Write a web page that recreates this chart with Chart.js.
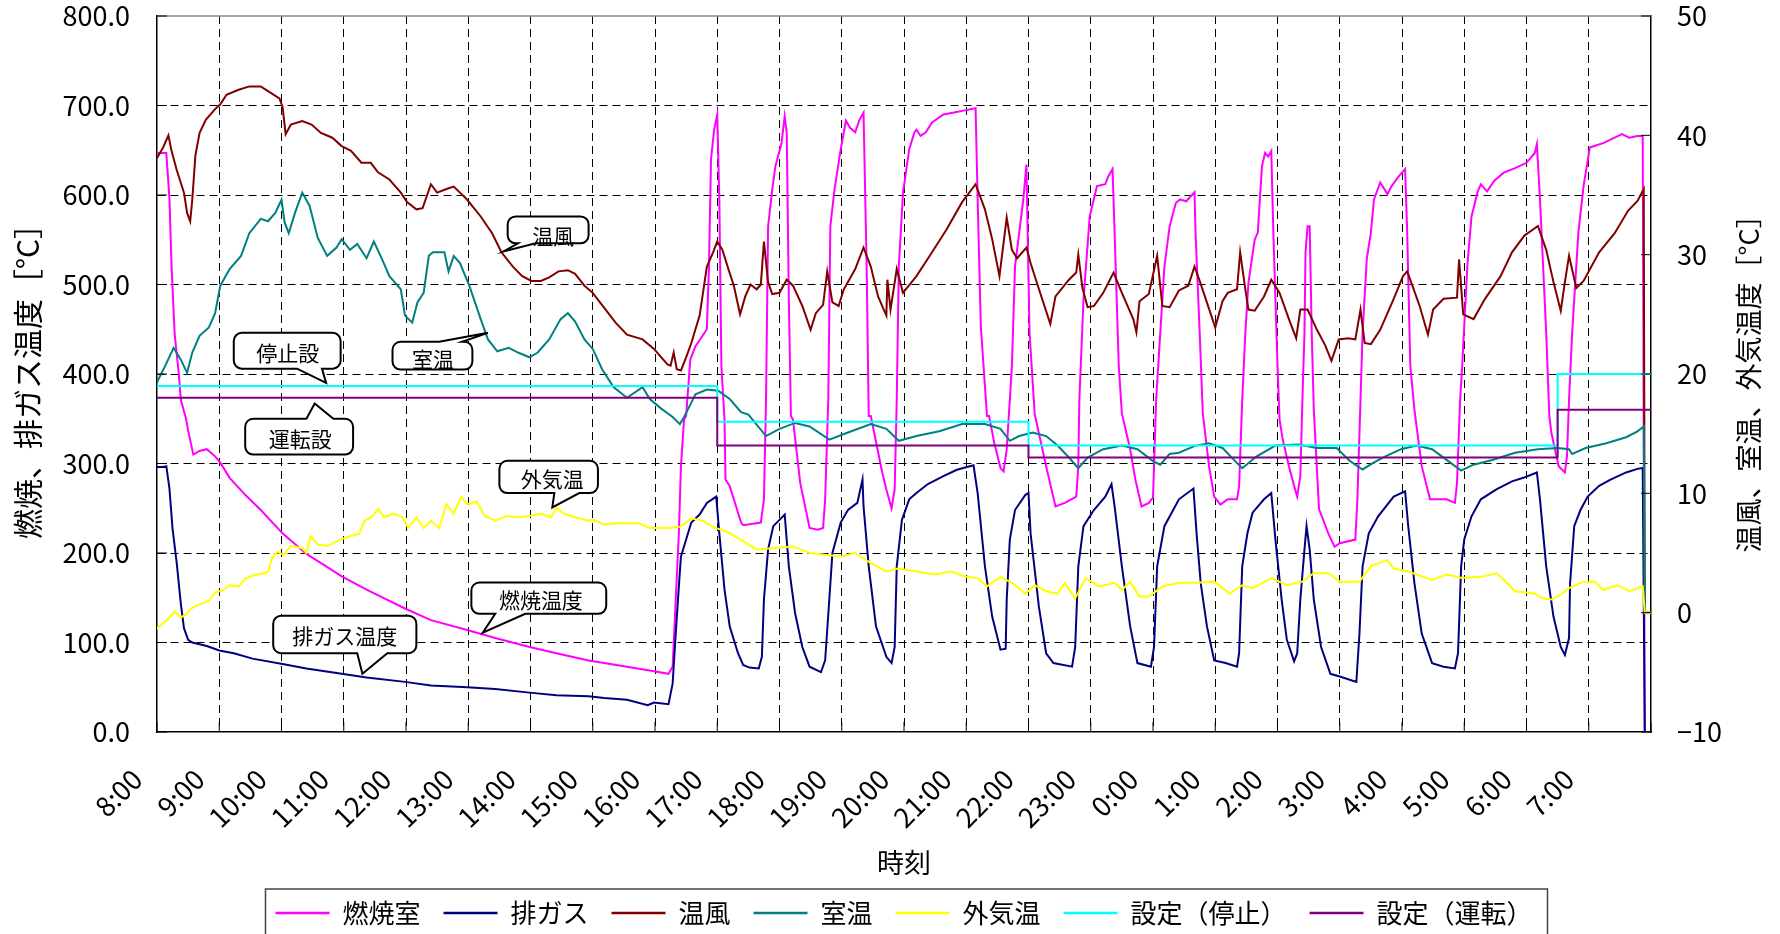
<!DOCTYPE html>
<html lang="ja">
<head>
<meta charset="utf-8">
<script src="https://cdn.jsdelivr.net/npm/chart.js@4.4.1/dist/chart.umd.min.js"></script>
<style>
  html, body { margin: 0; padding: 0; background: #fff; }
  #wrap { width: 1780px; height: 934px; }
</style>
</head>
<body>
<div id="wrap"><canvas id="chart" width="1780" height="934"></canvas></div>
<script>
// time axis: minutes after 8:00, one label per hour
const timeLabels = ['8:00', '9:00', '10:00', '11:00', '12:00', '13:00', '14:00', '15:00', '16:00', '17:00',
    '18:00', '19:00', '20:00', '21:00', '22:00', '23:00', '0:00', '1:00', '2:00', '3:00', '4:00', '5:00', '6:00', '7:00'];

const seriesNames = ['燃焼室', '排ガス', '温風', '室温', '外気温', '設定（停止）', '設定（運転）'];
const seriesColors = ['#ff00ff', '#000080', '#800000', '#008080', '#ffff00', '#00ffff', '#800080'];

// [minute, °C] - left axis
const combustion = [
    [0,647],[9,647],[12,596],[14,521],[17,445],[21,400],[23,371],[28,350],[30,337],[35,310],[41,314],[48,316],[56,308],[61,301],[70,284],[85,265],[100,248],[121,222],[144,199],[162,186],[178,174],[202,159],[239,138],[264,125],[299,114],[326,105],[359,95],[385,88],[416,80],[431,77],[453,73],[479,68],[493,65],
    [497,73],[500,148],[503,222],[505,297],[508,349],[510,353],[514,416],[519,431],[526,443],[530,450],[532,520],[534,640],[537,673],[540,690],[542,595],[544,409],[547,349],[548,282],[552,275],[563,234],[565,231],[582,234],[585,260],[587,371],
    [589,565],[593,606],[596,632],[602,658],[605,688],[607,669],[609,483],[611,353],[613,349],[620,278],[629,228],[637,226],[642,228],[644,260],[647,371],
    [649,565],[653,606],[659,651],[664,683],[668,675],[673,670],[677,684],[681,692],[684,520],[686,353],[688,353],[699,290],[703,271],[708,250],[711,271],[713,371],
    [715,520],[719,602],[725,651],[730,670],[732,673],[736,666],[741,670],[747,681],[758,690],[767,692],[776,694],[789,697],[791,595],[794,454],[800,353],[802,353],[807,323],[813,295],[816,291],[819,316],[822,371],
    [824,409],[827,520],[835,595],[838,634],[841,446],[846,355],[857,297],[866,252],[875,256],[886,263],[888,297],[889,371],
    [893,483],[899,576],[906,610],[914,612],[917,621],[921,629],[923,558],[927,409],[930,356],[938,316],[943,282],[949,252],[956,256],[960,262],[961,297],[963,371],
    [967,446],[971,520],[976,565],[982,591],[986,595],[992,593],[1000,603],[1001,558],[1005,446],[1008,356],[1014,297],[1019,263],[1025,254],[1032,260],[1041,260],[1043,275],[1046,371],
    [1049,446],[1052,502],[1058,550],[1061,558],[1065,632],[1068,647],[1071,643],[1074,649],[1076,558],[1080,409],[1082,349],[1085,327],[1091,297],[1096,275],[1099,263],[1102,286],[1104,371],
    [1106,446],[1107,536],[1109,565],[1111,565],[1113,446],[1115,360],[1120,249],[1129,222],[1135,207],[1140,211],[1155,215],[1157,260],[1160,371],
    [1162,446],[1166,528],[1170,558],[1173,595],[1179,614],[1186,601],[1190,610],[1197,621],[1203,629],[1205,558],[1208,409],[1212,360],[1219,297],[1227,260],[1234,260],[1243,260],[1251,256],[1253,278],[1256,371],
    [1258,409],[1263,521],[1267,576],[1273,604],[1276,612],[1282,604],[1289,616],[1298,625],[1309,630],[1320,636],[1328,647],[1330,657],[1333,595],[1339,446],[1342,353],[1344,334],[1351,297],[1357,290],[1359,308],[1361,371],
    [1364,446],[1370,558],[1375,610],[1381,653],[1386,655],[1394,658],[1405,664],[1412,668],[1419,664],[1427,666],[1432,666],[1434,0],[1440,0]
];

const exhaust = [
    [0,296],[6,296],[9,297],[12,272],[15,227],[19,189],[23,143],[26,116],[30,103],[34,100],[48,96],[60,91],[74,88],[92,82],[121,76],[144,71],[178,65],[202,61],[239,56],[264,52],[299,50],[326,48],[359,44],[385,41],[416,40],[431,38],[453,36],[473,30],[479,33],[493,31],
    [497,54],[500,110],[503,163],[505,196],[510,215],[515,234],[523,243],[530,256],[539,263],[542,222],[547,159],[552,118],[560,88],[565,75],[571,72],[580,71],[583,84],
    [585,148],[589,204],[594,230],[600,237],[605,243],[609,185],[615,133],[622,95],[629,73],[640,67],[644,80],
    [648,148],[651,200],[659,234],[666,248],[675,256],[680,282],[681,252],[686,185],[693,118],[703,84],[708,77],[711,95],
    [713,185],[718,237],[725,260],[732,267],[743,277],[758,286],[771,293],[787,298],[791,267],[798,185],[805,129],[813,92],[818,93],
    [819,148],[822,215],[827,248],[837,265],[840,267],[842,222],[850,140],[857,88],[864,77],[882,73],[885,95],
    [888,185],[893,230],[903,248],[914,263],[920,277],[923,252],[930,185],[938,118],[945,77],[958,73],[961,95],
    [964,185],[971,230],[985,260],[999,272],[1002,222],[1006,166],[1012,118],[1019,80],[1030,77],[1041,73],[1043,88],
    [1046,185],[1051,222],[1056,245],[1067,260],[1074,267],[1078,215],[1084,148],[1089,103],[1096,79],[1099,88],
    [1102,148],[1106,204],[1108,230],[1111,204],[1115,148],[1122,95],[1131,65],[1140,62],[1156,56],
    [1159,110],[1162,185],[1168,222],[1177,241],[1192,263],[1203,269],[1206,230],[1212,166],[1219,110],[1229,77],[1240,73],[1251,71],[1254,88],
    [1257,185],[1260,215],[1267,241],[1276,260],[1291,271],[1306,280],[1317,284],[1330,290],[1333,260],[1339,185],[1346,129],[1353,95],[1357,86],[1361,105],
    [1362,166],[1366,230],[1372,248],[1379,263],[1390,275],[1401,282],[1416,290],[1427,294],[1432,295],[1434,0],[1440,0]
];

// [minute, °C] - right axis
const hotAir = [
    [0,38.1],[6,39.0],[11,40.0],[14,38.7],[19,37.1],[26,35.2],[29,33.5],[32,32.8],[34,34.6],[37,38.3],[41,40.2],[47,41.3],[56,42.2],[61,42.6],[67,43.4],[78,43.8],[89,44.1],[100,44.1],[107,43.7],[118,43.1],[121,42.4],[124,40.1],[129,40.9],[140,41.2],[149,40.9],[158,40.2],[169,39.8],[178,39.1],[187,38.7],[197,37.7],[206,37.7],[213,36.9],[224,36.3],[235,35.2],[241,34.4],[250,33.8],[256,33.9],[264,35.9],[270,35.2],[279,35.5],[286,35.7],[292,35.2],[299,34.6],[312,33.2],[323,31.8],[332,30.2],[343,29.0],[352,28.2],[361,27.8],[370,27.8],[378,28.1],[387,28.6],[396,28.7],[403,28.4],[412,27.4],
    [420,26.8],[427,26.0],[442,24.3],[453,23.3],[468,22.9],[479,22.1],[492,20.8],[495,20.7],[498,21.8],[501,20.4],[505,20.3],[510,21.4],[515,22.6],[523,24.9],[530,29.0],[536,30.2],[540,31.1],[545,30.4],[550,29.0],[556,27.4],[562,25.0],[567,26.5],[572,27.5],[578,27.1],[582,27.5],[585,31.1],[589,27.7],[593,26.7],[600,26.8],[607,27.9],[613,27.4],[622,25.7],[630,23.7],[635,25.1],[642,25.8],[646,28.6],[651,26.0],[657,25.7],[662,27.1],[673,28.8],[681,30.6],[688,29.0],[695,26.5],[703,24.9],[704,27.9],[707,25.4],[713,28.8],[719,26.8],[732,28.2],[747,30.2],[761,32.1],[776,34.4],[789,35.9],[798,33.8],[805,31.3],[812,28.2],[816,31.0],[819,33.1],[824,30.4],[829,29.7],[838,30.6],[842,29.3],[849,27.4],[861,24.2],[866,26.5],[879,27.9],[886,28.5],[888,30.0],[892,27.2],[897,25.6],[903,25.7],[912,26.8],[922,28.5],[930,26.8],[941,24.6],[944,23.5],[947,26.1],[956,26.7],[964,29.9],[969,25.7],[976,25.6],[985,27.0],
    [994,27.4],[1000,29.0],[1005,27.8],[1010,26.5],[1020,23.9],[1027,26.1],[1032,26.8],[1041,27.1],[1044,30.2],[1049,27.1],[1052,25.4],[1058,25.3],[1067,26.5],[1074,27.9],[1082,26.8],[1091,24.6],[1098,23.0],[1102,25.4],[1109,25.4],[1118,23.7],[1126,22.4],[1132,21.1],[1139,22.9],[1148,23.0],[1155,22.9],[1160,25.4],[1164,22.6],[1170,22.5],[1179,23.7],[1192,26.3],[1201,28.2],[1205,28.6],[1210,27.4],[1217,25.7],[1225,23.3],[1230,25.4],[1240,26.3],[1253,26.4],[1255,29.6],[1259,25.0],[1269,24.6],[1280,26.3],[1295,28.2],[1306,30.2],[1318,31.6],[1331,32.4],[1339,30.4],[1346,27.7],[1353,25.3],[1357,27.7],[1361,29.9],[1368,27.2],[1375,27.8],[1390,30.2],[1405,31.8],[1418,33.7],[1427,34.5],[1433,35.5],[1434,0],[1440,0]
];

const roomAir = [
    [0,19.3],[8,20.7],[16,22.2],[23,21.2],[29,20.1],[34,21.8],[41,23.2],[50,23.9],[56,25.1],[61,27.4],[70,28.8],[81,29.9],[89,31.8],[100,33.0],[107,32.8],[114,33.5],[120,34.6],[123,32.7],[127,31.8],[133,33.5],[140,35.2],[147,34.1],[155,31.4],[164,29.9],[173,30.6],[178,31.3],[186,30.4],[193,30.9],[202,29.7],[209,31.1],[217,29.6],[224,28.2],[235,27.1],[239,24.9],[246,24.3],[251,26.0],[257,26.8],[262,29.9],[266,30.2],[277,30.2],[281,28.6],[286,29.9],[292,29.3],[301,27.4],[312,24.6],[319,22.9],[328,21.9],[339,22.2],[348,21.8],[359,21.4],[367,21.8],[378,22.9],[389,24.6],[396,25.1],[403,24.4],[412,22.9],
    [420,22.1],[429,20.4],[440,18.9],[453,18.0],[468,18.9],[475,17.9],[486,17.1],[497,16.4],[504,15.8],[508,16.4],[515,17.6],[519,18.3],[530,18.7],[541,18.6],[552,17.9],[563,16.8],[570,16.6],[587,14.8],[600,15.4],[615,15.9],[629,15.6],[648,14.5],[666,15.1],[688,15.8],[703,15.4],[715,14.4],[732,14.8],[754,15.2],[776,15.8],[798,15.8],[813,15.4],[822,14.4],[831,14.8],[844,15.1],[857,14.8],[868,14.0],[879,13.0],[888,12.1],[897,13.0],[912,13.7],[930,14.0],[945,13.7],[960,12.7],[967,12.4],[976,13.3],[985,13.4],
    [1001,14.0],[1014,14.2],[1027,13.8],[1038,12.8],[1046,12.1],[1060,13.1],[1078,14.0],[1100,14.1],[1118,13.8],[1137,13.8],[1150,12.7],[1162,12.0],[1173,12.6],[1184,13.1],[1199,13.7],[1214,14.0],[1229,13.7],[1243,12.8],[1257,11.9],[1269,12.4],[1287,12.8],[1309,13.4],[1331,13.7],[1350,13.8],[1361,13.7],[1364,13.3],[1377,13.8],[1397,14.2],[1416,14.7],[1427,15.2],[1433,15.6],[1434,0],[1440,0]
];

const outdoorAir = [
    [0,-1.35],[4,-1.0],[10,-0.6],[17,0.1],[23,-0.4],[28,-0.15],[34,0.4],[41,0.7],[50,1.0],[56,1.7],[63,1.85],[70,2.3],[79,2.2],[85,2.85],[92,3.1],[107,3.4],[111,4.6],[116,5.1],[122,4.85],[129,5.6],[140,5.4],[144,5.0],[148,6.4],[155,5.7],[165,5.6],[176,6.1],[186,6.4],[195,6.6],[200,7.7],[208,8.1],[213,8.7],[219,8.0],[228,8.3],[237,8.0],[242,7.1],[250,8.0],[257,7.1],[264,7.7],[272,7.1],[279,9.1],[286,8.3],[293,9.7],[299,9.1],[308,9.3],[316,8.1],[326,7.7],[337,8.1],[348,8.0],[359,8.1],[370,8.3],[380,8.0],[385,8.8],[392,8.3],[403,8.0],[416,7.7],
    [420,7.8],[431,7.4],[446,7.5],[464,7.5],[475,7.1],[493,7.1],[504,7.2],[515,7.9],[526,7.7],[538,7.1],[549,6.8],[563,6.1],[578,5.3],[593,5.4],[613,5.55],[629,5.0],[644,4.85],[659,4.7],[673,5.0],[688,4.15],[703,3.45],[714,3.7],[732,3.45],[750,3.2],[765,3.45],[780,3.0],[791,2.9],[800,2.2],[813,3.0],[824,2.5],[837,1.6],[846,2.3],[857,1.8],[868,1.6],[875,2.5],[885,1.2],[895,2.9],[908,2.2],[923,2.5],[930,1.9],[938,2.6],[947,1.35],[956,1.35],[969,2.2],[985,2.5],
    [1001,2.5],[1019,2.6],[1034,1.6],[1046,2.3],[1056,2.05],[1074,2.9],[1089,2.3],[1104,2.6],[1115,3.3],[1129,3.3],[1140,2.6],[1159,2.6],[1170,3.9],[1186,4.4],[1192,3.7],[1206,3.45],[1229,2.75],[1243,3.2],[1258,2.9],[1276,3.0],[1291,3.3],[1298,2.75],[1309,1.8],[1328,1.6],[1335,1.2],[1344,1.1],[1353,1.5],[1361,2.05],[1375,2.6],[1386,2.6],[1394,1.9],[1408,2.3],[1419,1.8],[1432,2.2],[1434,0],[1440,0]
];

// set points change at 17:00, 22:00 and 6:30
const setTimes = [0, 540, 840, 1350, 1440];
const stopSet = [19, 16, 14, 20, 20];
const runSet = [18, 14, 13, 17, 17];

// callouts: box [t0, v0, t1, v1] in left-axis units, side of the pointer, pointer base, tip, text centre
const callouts = [
    { text: '温風', box: [338, 576, 416, 546], side: 'bottom', base: [348, 365], tip: [334, 537], at: [382, 554] },
    { text: '室温', box: [227, 436, 304, 405], side: 'top', base: [272, 294], tip: [319, 446], at: [266, 417] },
    { text: '停止設', box: [74, 446, 177, 406], side: 'bottom', base: [135, 159], tip: [163, 390], at: [126, 424] },
    { text: '運転設', box: [85, 350, 189, 310], side: 'top', base: [144, 170], tip: [152, 367], at: [138, 327] },
    { text: '外気温', box: [330, 303, 425, 267], side: 'bottom', base: [383, 407], tip: [381, 251], at: [381, 283] },
    { text: '燃焼温度', box: [303, 167, 433, 132], side: 'bottom', base: [326, 355], tip: [314, 111], at: [370, 148] },
    { text: '排ガス温度', box: [112, 130, 250, 88], side: 'bottom', base: [193, 222], tip: [198, 65], at: [181, 107] }
];

const FONT = '"Noto Sans CJK JP", "Noto Sans", sans-serif';
Chart.defaults.font.family = FONT;
Chart.defaults.color = '#000';

function toPoints(pairs) {
    return pairs.map(p => ({ x: p[0], y: p[1] }));
}

const seriesData = [
    toPoints(combustion),
    toPoints(exhaust),
    toPoints(hotAir),
    toPoints(roomAir),
    toPoints(outdoorAir),
    setTimes.map((t, i) => ({ x: t, y: stopSet[i] })),
    setTimes.map((t, i) => ({ x: t, y: runSet[i] }))
];
const seriesAxis = ['y', 'y', 'y2', 'y2', 'y2', 'y2', 'y2'];

const datasets = seriesNames.map((name, i) => ({
    label: name,
    data: seriesData[i],
    yAxisID: seriesAxis[i],
    borderColor: seriesColors[i],
    backgroundColor: seriesColors[i],
    borderWidth: 2,
    pointRadius: 0,
    tension: 0,
    stepped: i >= 5,
    // later series are drawn on top
    order: seriesNames.length - i
}));

function calloutPath(c, x0, y0, x1, y1, side, b0, b1, tx, ty) {
    const r = 8;
    c.beginPath();
    c.moveTo(x0 + r, y0);
    if (side === 'top') { c.lineTo(b0, y0); c.lineTo(tx, ty); c.lineTo(b1, y0); }
    c.lineTo(x1 - r, y0);
    c.arcTo(x1, y0, x1, y0 + r, r);
    c.lineTo(x1, y1 - r);
    c.arcTo(x1, y1, x1 - r, y1, r);
    if (side === 'bottom') { c.lineTo(b1, y1); c.lineTo(tx, ty); c.lineTo(b0, y1); }
    c.lineTo(x0 + r, y1);
    c.arcTo(x0, y1, x0, y1 - r, r);
    c.lineTo(x0, y0 + r);
    c.arcTo(x0, y0, x0 + r, y0, r);
    c.closePath();
}

const decorations = {
    id: 'decorations',
    afterDatasetsDraw(chart) {
        const c = chart.ctx;
        const xs = chart.scales.x, ys = chart.scales.y;
        c.save();
        c.font = '21px ' + FONT;
        c.textAlign = 'center';
        c.textBaseline = 'middle';
        callouts.forEach(o => {
            const x0 = xs.getPixelForValue(o.box[0]), y0 = ys.getPixelForValue(o.box[1]);
            const x1 = xs.getPixelForValue(o.box[2]), y1 = ys.getPixelForValue(o.box[3]);
            calloutPath(c, x0, y0, x1, y1, o.side,
                xs.getPixelForValue(o.base[0]), xs.getPixelForValue(o.base[1]),
                xs.getPixelForValue(o.tip[0]), ys.getPixelForValue(o.tip[1]));
            c.fillStyle = '#fff';
            c.fill();
            c.lineWidth = 2;
            c.strokeStyle = '#000';
            c.stroke();
            c.fillStyle = '#000';
            c.fillText(o.text, xs.getPixelForValue(o.at[0]), ys.getPixelForValue(o.at[1]));
        });
        c.restore();
    },
    afterDraw(chart) {
        const c = chart.ctx;
        const { left, right, top, bottom } = chart.chartArea;
        c.save();
        // top edge of plot area
        c.strokeStyle = '#888';
        c.lineWidth = 1.5;
        c.beginPath();
        c.moveTo(left, top);
        c.lineTo(right, top);
        c.stroke();

        // small tick marks inside the frame
        c.strokeStyle = '#000';
        c.lineWidth = 1;
        c.beginPath();
        chart.scales.x.ticks.forEach(tk => {
            const px = chart.scales.x.getPixelForValue(tk.value);
            c.moveTo(px, bottom);
            c.lineTo(px, bottom - 10);
        });
        chart.scales.y.ticks.forEach(tk => {
            const py = chart.scales.y.getPixelForValue(tk.value);
            c.moveTo(left, py);
            c.lineTo(left + 10, py);
        });
        chart.scales.y2.ticks.forEach(tk => {
            const py = chart.scales.y2.getPixelForValue(tk.value);
            c.moveTo(right - 10, py);
            c.lineTo(right, py);
        });
        c.stroke();

        // right axis title, reading upward like the left one
        c.font = '27px ' + FONT;
        c.fillStyle = '#000';
        c.textAlign = 'center';
        c.textBaseline = 'middle';
        c.translate(1749, (top + bottom) / 2 + 3);
        c.rotate(-Math.PI / 2);
        c.fillText('温風、室温、外気温度［°C］', 0, 0);
        c.restore();

        // legend in a box along the bottom
        c.save();
        c.font = '26px ' + FONT;
        const gap = 23;
        const items = chart.data.datasets.map(d => ({
            label: d.label,
            color: d.borderColor,
            w: 54 + 13 + c.measureText(d.label).width
        }));
        const total = items.reduce((s, it) => s + it.w, 0) + gap * (items.length - 1);
        let x = (left + right) / 2 - total / 2;
        const y = 913;
        c.strokeStyle = '#444';
        c.lineWidth = 1.5;
        c.strokeRect(x - 10, 889, total + 25, 80);
        c.textAlign = 'left';
        c.textBaseline = 'middle';
        items.forEach(it => {
            c.strokeStyle = it.color;
            c.lineWidth = 2.5;
            c.beginPath();
            c.moveTo(x, y);
            c.lineTo(x + 54, y);
            c.stroke();
            c.fillStyle = '#000';
            c.fillText(it.label, x + 67, y);
            x += it.w + gap;
        });
        c.restore();
    }
};

const dash = [8, 5];

// vertical axes: fixed widths, and no extra top/bottom padding from tick labels
function fixWidth(w) {
    return s => {
        s.width = w;
        s.paddingTop = 0;
        s.paddingBottom = 0;
    };
}

new Chart(document.getElementById('chart'), {
    type: 'line',
    data: { datasets },
    options: {
        responsive: false,
        animation: false,
        layout: { padding: { top: 16, left: 0, right: 0, bottom: 0 } },
        plugins: {
            legend: { display: false },
            tooltip: { enabled: false }
        },
        scales: {
            x: {
                type: 'linear',
                min: 0,
                max: 1440,
                afterFit: s => { s.height = 202; },
                grid: {
                    color: c => (c.tick.value === 0 || c.tick.value === 1440) ? 'rgba(0,0,0,0)' : '#000',
                    lineWidth: 1,
                    drawTicks: false
                },
                border: { display: true, color: '#000', width: 1.5, dash: dash },
                ticks: {
                    stepSize: 60,
                    autoSkip: false,
                    maxRotation: 45,
                    minRotation: 45,
                    padding: 31,
                    labelOffset: -20,
                    font: { size: 27 },
                    callback: v => timeLabels[v / 60] || ''
                },
                title: {
                    display: true,
                    text: '時刻',
                    font: { size: 27 },
                    padding: { top: 0, bottom: 55 }
                }
            },
            y: {
                position: 'left',
                min: 0,
                max: 800,
                afterFit: fixWidth(157),
                grid: {
                    color: c => (c.tick.value === 0 || c.tick.value === 800) ? 'rgba(0,0,0,0)' : '#000',
                    lineWidth: 1,
                    drawTicks: false
                },
                border: { display: true, color: '#000', width: 1.5, dash: dash },
                ticks: {
                    stepSize: 100,
                    padding: 27,
                    font: { size: 27 },
                    callback: v => v.toFixed(1)
                },
                title: {
                    display: true,
                    text: '燃焼、排ガス温度［°C］',
                    font: { size: 30 },
                    padding: { top: 10, bottom: 0 }
                }
            },
            y2: {
                position: 'right',
                min: -10,
                max: 50,
                afterFit: fixWidth(129),
                grid: { drawOnChartArea: false, drawTicks: false },
                border: { display: true, color: '#000', width: 1.5 },
                ticks: {
                    stepSize: 10,
                    padding: 26,
                    font: { size: 27 },
                    callback: v => (v < 0 ? '\u2212' + Math.abs(v) : String(v))
                }
            }
        }
    },
    plugins: [decorations]
});
</script>
</body>
</html>
